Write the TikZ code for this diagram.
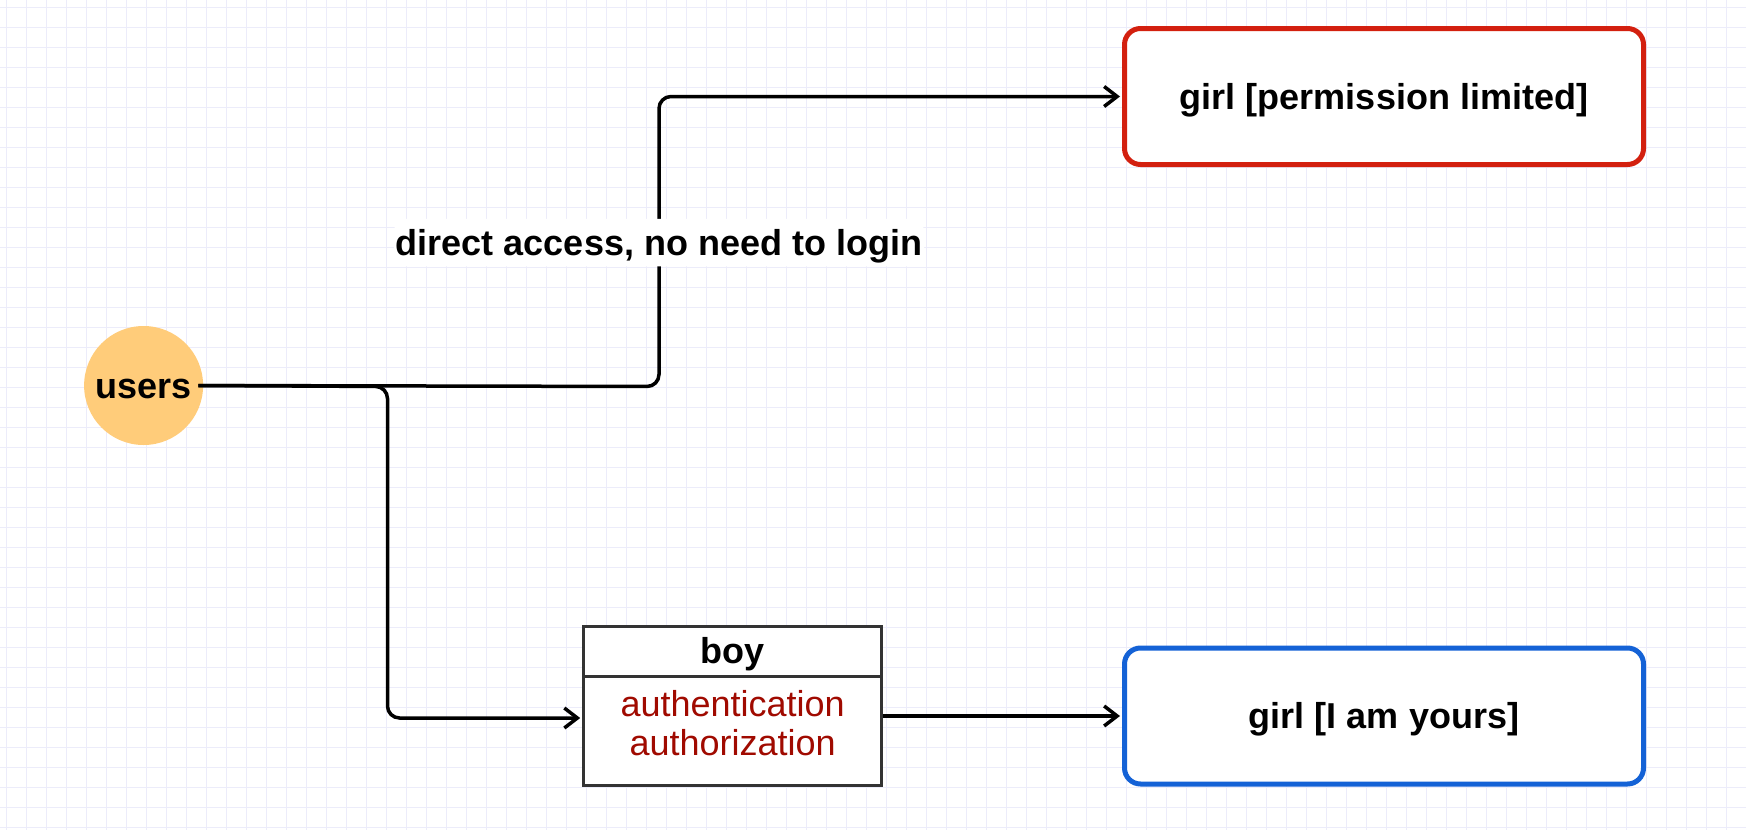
\documentclass[tikz,border=0pt]{standalone}
\usepackage{fontspec}
\setmainfont{Liberation Sans}
\usetikzlibrary{arrows.meta}
\definecolor{gridc}{HTML}{ECECFA}
\definecolor{usersfill}{HTML}{FFCC7A}
\definecolor{redb}{HTML}{D3200F}
\definecolor{blueb}{HTML}{1462D6}
\definecolor{authred}{HTML}{A00A00}
\definecolor{boyline}{HTML}{333333}
\begin{document}
\begin{tikzpicture}[x=1pt,y=-1pt,
  bigbold/.style={font=\fontsize{36}{40}\selectfont\bfseries, text height=32.6pt, text depth=7.6pt},
  girlbox/.style={draw, line width=5pt, rounded corners=16pt, fill=white,
    minimum width=519pt, minimum height=136pt, inner sep=0pt, bigbold},
  boypart/.style={draw=boyline, line width=3pt, fill=white, minimum width=298pt, inner sep=0pt},
  conn/.style={draw=black, line width=3.5pt, rounded corners=12pt},
  arr/.style={conn, -{Straight Barb[length=13pt,width=20pt]}, shorten >=2pt},
]
\fill[white] (0,0) rectangle (1746,830);
\useasboundingbox (0,0) rectangle (1746,830);
\foreach \x in {6,26,...,1746} \draw[gridc, line width=1pt] (\x,0) -- (\x,830);
\foreach \y in {7,27,...,830} \draw[gridc, line width=1pt] (0,\y) -- (1746,\y);

\node[circle, fill=usersfill, minimum size=119pt, inner sep=0pt, bigbold] (users) at (143.6,385.5) {users};
\node[girlbox, draw=redb] (red) at (1384,96.5) {girl [permission limited]};
\node[girlbox, draw=blueb] (blue) at (1384,716) {girl [I am yours]};
\node[boypart, minimum height=50pt, bigbold] (boyhead) at (732.7,651) {boy};
\node[boypart, minimum height=109pt] (boybody) at (732.7,730.5) {};
\node[font=\fontsize{36}{39}\selectfont, text=authred, align=center, inner sep=0pt] (auth) at (732.7,723) {authentication\\authorization};

\coordinate (upx) at (659,386.5);
\coordinate (dnx) at (387.5,386.5);
\draw[arr] ([xshift=-5pt]users.east) -- (upx) -- (upx |- red.west)
  node[pos=0.496, fill=white, bigbold, inner xsep=2pt, inner ysep=3.6pt] (lbl) {direct access, no need to login}
  -- (red.west);
\draw[arr] ([xshift=-5pt]users.east) -- (dnx) -- (dnx |- 0,718) -- (boybody.west |- 0,718);
\draw[arr] (boybody.east |- blue.west) -- (blue.west);
\end{tikzpicture}
\end{document}
